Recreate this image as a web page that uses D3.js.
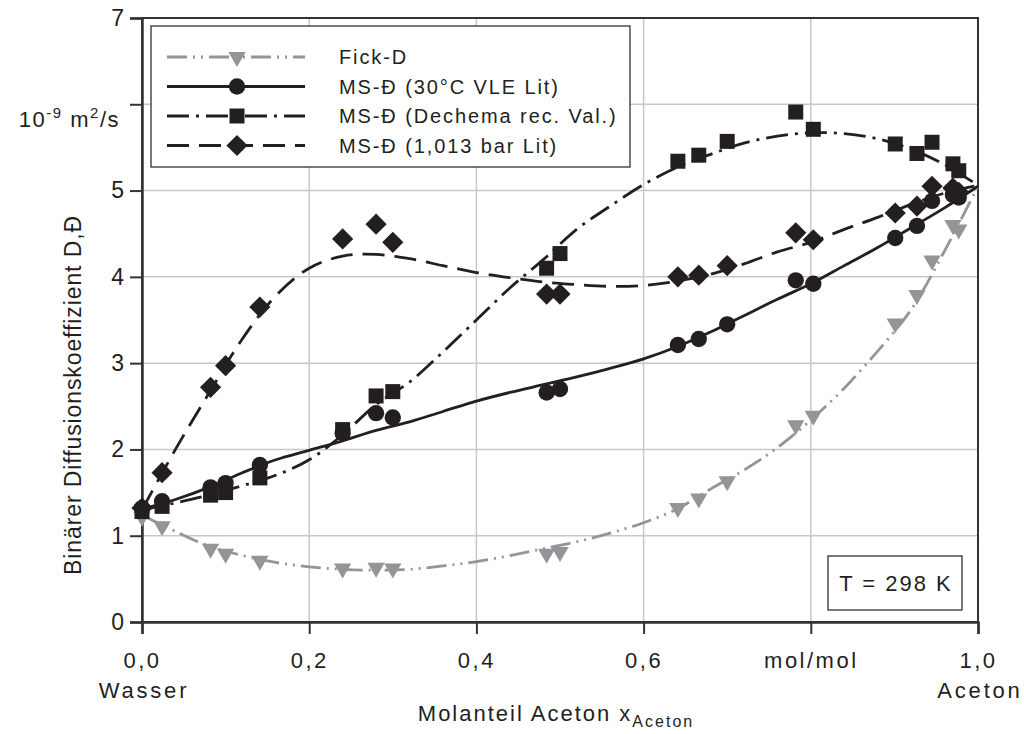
<!DOCTYPE html>
<html>
<head>
<meta charset="utf-8">
<style>
body { margin: 0; background: #fff; }
svg text { font-family: "Liberation Sans", Arial, sans-serif; fill: #231f20; }
.grid line { stroke: #c8c8c8; stroke-width: 1.5; }
.leg text { font-size: 20px; letter-spacing: 1.9px; }
</style>
</head>
<body>
<svg id="chart" width="1024" height="734"></svg>
<script src="https://cdn.jsdelivr.net/npm/d3@7"></script>
<script>
// measured points (x = mole fraction acetone)
var xPts = [0, 0.024, 0.082, 0.10, 0.141, 0.24, 0.28, 0.30, 0.484, 0.50, 0.641, 0.666, 0.70, 0.782, 0.803, 0.901, 0.927, 0.945, 0.970, 0.977];
var fickPts   = [1.22, 1.11, 0.85, 0.79, 0.71, 0.62, 0.63, 0.62, 0.79, 0.81, 1.32, 1.43, 1.63, 2.28, 2.39, 3.46, 3.79, 4.19, 4.60, 4.55];
var vlePts    = [1.32, 1.40, 1.56, 1.61, 1.82, 2.19, 2.42, 2.37, 2.66, 2.70, 3.21, 3.28, 3.45, 3.96, 3.92, 4.45, 4.59, 4.88, 4.95, 4.92];
var dechemaPts = [1.28, 1.34, 1.47, 1.50, 1.67, 2.23, 2.62, 2.67, 4.10, 4.27, 5.34, 5.41, 5.57, 5.91, 5.71, 5.54, 5.43, 5.56, 5.31, 5.23];
var barPts    = [1.32, 1.73, 2.72, 2.97, 3.65, 4.44, 4.61, 4.40, 3.80, 3.80, 4.00, 4.02, 4.13, 4.51, 4.43, 4.74, 4.82, 5.05, 5.03, 4.98];

// fitted curves
var xFit = [0, 0.04, 0.08, 0.12, 0.16, 0.20, 0.24, 0.28, 0.32, 0.36, 0.40, 0.44, 0.48, 0.52, 0.56, 0.60, 0.64, 0.68, 0.72, 0.76, 0.80, 0.84, 0.88, 0.92, 0.96, 1.0];
var fickFit    = [1.24, 1.05, 0.88, 0.77, 0.69, 0.64, 0.61, 0.60, 0.61, 0.65, 0.70, 0.77, 0.85, 0.93, 1.03, 1.15, 1.31, 1.54, 1.76, 2.02, 2.34, 2.71, 3.14, 3.62, 4.30, 5.05];
var vleFit     = [1.31, 1.42, 1.56, 1.73, 1.88, 1.99, 2.10, 2.22, 2.32, 2.44, 2.56, 2.66, 2.75, 2.84, 2.94, 3.05, 3.19, 3.36, 3.55, 3.74, 3.92, 4.13, 4.34, 4.57, 4.80, 5.05];
var dechemaFit = [1.30, 1.38, 1.47, 1.58, 1.70, 1.88, 2.17, 2.52, 2.78, 3.13, 3.50, 3.87, 4.20, 4.55, 4.82, 5.07, 5.27, 5.42, 5.55, 5.63, 5.67, 5.66, 5.60, 5.48, 5.30, 5.06];
var barFit     = [1.30, 2.00, 2.65, 3.28, 3.78, 4.10, 4.24, 4.26, 4.21, 4.13, 4.05, 3.99, 3.94, 3.91, 3.89, 3.90, 3.95, 4.03, 4.15, 4.29, 4.40, 4.55, 4.69, 4.84, 4.97, 5.06];

var xTicks = [0, 0.2, 0.4, 0.6, 0.8, 1.0];
var xTickLabels = ["0,0", "0,2", "0,4", "0,6", "mol/mol", "1,0"];
var yTicks = [0, 1, 2, 3, 4, 5, 6, 7];
var yTickLabels = ["0", "1", "2", "3", "4", "5", "", "7"];
var legendNames = ["Fick-D", "MS-Đ (30°C VLE Lit)", "MS-Đ (Dechema rec. Val.)", "MS-Đ (1,013 bar Lit)"];

var svg = d3.select("#chart");
var x = d3.scaleLinear().domain([0, 1]).range([142, 978]);
var y = d3.scaleLinear().domain([0, 7]).range([622, 18]);

var black = "#231f20", gray = "#939598";

var series = [
  {pts: fickPts, fit: fickFit, color: gray, dash: "20,6,2,6,2,6", sym: "tri"},
  {pts: vlePts, fit: vleFit, color: black, dash: null, sym: "circle"},
  {pts: dechemaPts, fit: dechemaFit, color: black, dash: "22,7,3,7", sym: "square"},
  {pts: barPts, fit: barFit, color: black, dash: "22,10", sym: "diamond"}
];

// grid
var grid = svg.append("g").attr("class", "grid");
grid.selectAll(".gx").data(xTicks.slice(1, 5)).enter().append("line")
  .attr("x1", function(d) { return x(d); }).attr("x2", function(d) { return x(d); })
  .attr("y1", y(7)).attr("y2", y(0));
grid.selectAll(".gy").data(yTicks.slice(1, 7)).enter().append("line")
  .attr("x1", x(0)).attr("x2", x(1))
  .attr("y1", function(d) { return y(d); }).attr("y2", function(d) { return y(d); });

// frame
svg.append("rect").attr("x", x(0)).attr("y", y(7)).attr("width", x(1) - x(0)).attr("height", y(0) - y(7))
  .attr("fill", "none").attr("stroke", "#333").attr("stroke-width", 2);

// axes
var yAxis = d3.axisLeft(y).tickValues(yTicks).tickSize(12).tickFormat(function(d, i) { return yTickLabels[i]; });
var gy = svg.append("g").attr("transform", "translate(" + x(0) + ",0)").call(yAxis);
var xAxis = d3.axisBottom(x).tickValues(xTicks).tickSize(12).tickFormat(function(d, i) { return xTickLabels[i]; });
var gx = svg.append("g").attr("transform", "translate(0," + y(0) + ")").call(xAxis);
[gx, gy].forEach(function(g) {
  g.select(".domain").attr("stroke", "#333").attr("stroke-width", 2.5);
  g.selectAll(".tick line").attr("stroke", "#333").attr("stroke-width", 2);
  g.selectAll(".tick text").style("font-size", "22px")
    .style("font-family", "'Liberation Sans', Arial, sans-serif").attr("fill", black);
});
gy.selectAll(".tick text").attr("x", -18).style("font-size", "23px");
gx.selectAll(".tick text").attr("y", 30).style("letter-spacing", "2.5px");

// unit label at 6
var unit = svg.append("text").attr("x", 120).attr("y", 127).attr("text-anchor", "end")
  .style("font-size", "22px").style("letter-spacing", "1.5px");
unit.append("tspan").text("10");
unit.append("tspan").attr("dy", -9).style("font-size", "15px").text("-9");
unit.append("tspan").attr("dy", 9).text(" m");
unit.append("tspan").attr("dy", -9).style("font-size", "15px").text("2");
unit.append("tspan").attr("dy", 9).text("/s");

// axis titles
svg.append("text").attr("transform", "translate(81,395) rotate(-90)").attr("text-anchor", "middle")
  .style("font-size", "23px").style("letter-spacing", "0.9px").text("Binärer Diffusionskoeffizient D,Đ");
svg.append("text").attr("x", x(0) + 2).attr("y", 698).attr("text-anchor", "middle")
  .style("font-size", "22px").style("letter-spacing", "2.8px").text("Wasser");
svg.append("text").attr("x", x(1) + 2).attr("y", 698).attr("text-anchor", "middle")
  .style("font-size", "22px").style("letter-spacing", "2.8px").text("Aceton");
var xt = svg.append("text").attr("x", 556).attr("y", 721).attr("text-anchor", "middle")
  .style("font-size", "22px").style("letter-spacing", "2px");
xt.append("tspan").text("Molanteil Aceton x");
xt.append("tspan").attr("dy", 6).style("font-size", "16px").text("Aceton");

// curves
var line = d3.line().curve(d3.curveCatmullRom.alpha(0.5))
  .x(function(d) { return x(d[0]); }).y(function(d) { return y(d[1]); });
series.forEach(function(s) {
  svg.append("path").datum(xFit.map(function(v, i) { return [v, s.fit[i]]; }))
    .attr("d", line).attr("fill", "none").attr("stroke", s.color).attr("stroke-width", 2.8)
    .attr("stroke-dasharray", s.dash);
});

// markers
function symbolPath(kind) {
  if (kind === "circle") return d3.symbol(d3.symbolCircle, 210)();
  if (kind === "tri") return d3.symbol(d3.symbolTriangle, 130)();
  return d3.symbol(d3.symbolSquare, 225)();
}
function rotation(kind) {
  if (kind === "tri") return " rotate(180)";
  if (kind === "diamond") return " rotate(45)";
  return "";
}
series.forEach(function(s) {
  svg.append("g").selectAll("path").data(s.pts).enter().append("path")
    .attr("d", symbolPath(s.sym))
    .attr("transform", function(d, i) { return "translate(" + x(xPts[i]) + "," + y(d) + ")" + rotation(s.sym); })
    .attr("fill", s.color);
});

// legend
var leg = svg.append("g").attr("class", "leg");
leg.append("rect").attr("x", 151).attr("y", 26).attr("width", 479).attr("height", 141)
  .attr("fill", "#fff").attr("stroke", black).attr("stroke-width", 1.2);
series.forEach(function(s, i) {
  var ly = 57 + i * 29.5;
  leg.append("line").attr("x1", 167).attr("x2", 305).attr("y1", ly).attr("y2", ly)
    .attr("stroke", s.color).attr("stroke-width", 2.8).attr("stroke-dasharray", s.dash);
  leg.append("path").attr("d", symbolPath(s.sym))
    .attr("transform", "translate(237," + ly + ")" + rotation(s.sym)).attr("fill", s.color);
  leg.append("text").attr("x", 339).attr("y", ly + 7).text(legendNames[i]);
});

// temperature box
svg.append("rect").attr("x", 828).attr("y", 556).attr("width", 134).attr("height", 54)
  .attr("fill", "#fff").attr("stroke", black).attr("stroke-width", 1.2);
svg.append("text").attr("x", 896).attr("y", 591).attr("text-anchor", "middle")
  .style("font-size", "22px").style("letter-spacing", "2px").text("T = 298 K");
</script>
</body>
</html>
